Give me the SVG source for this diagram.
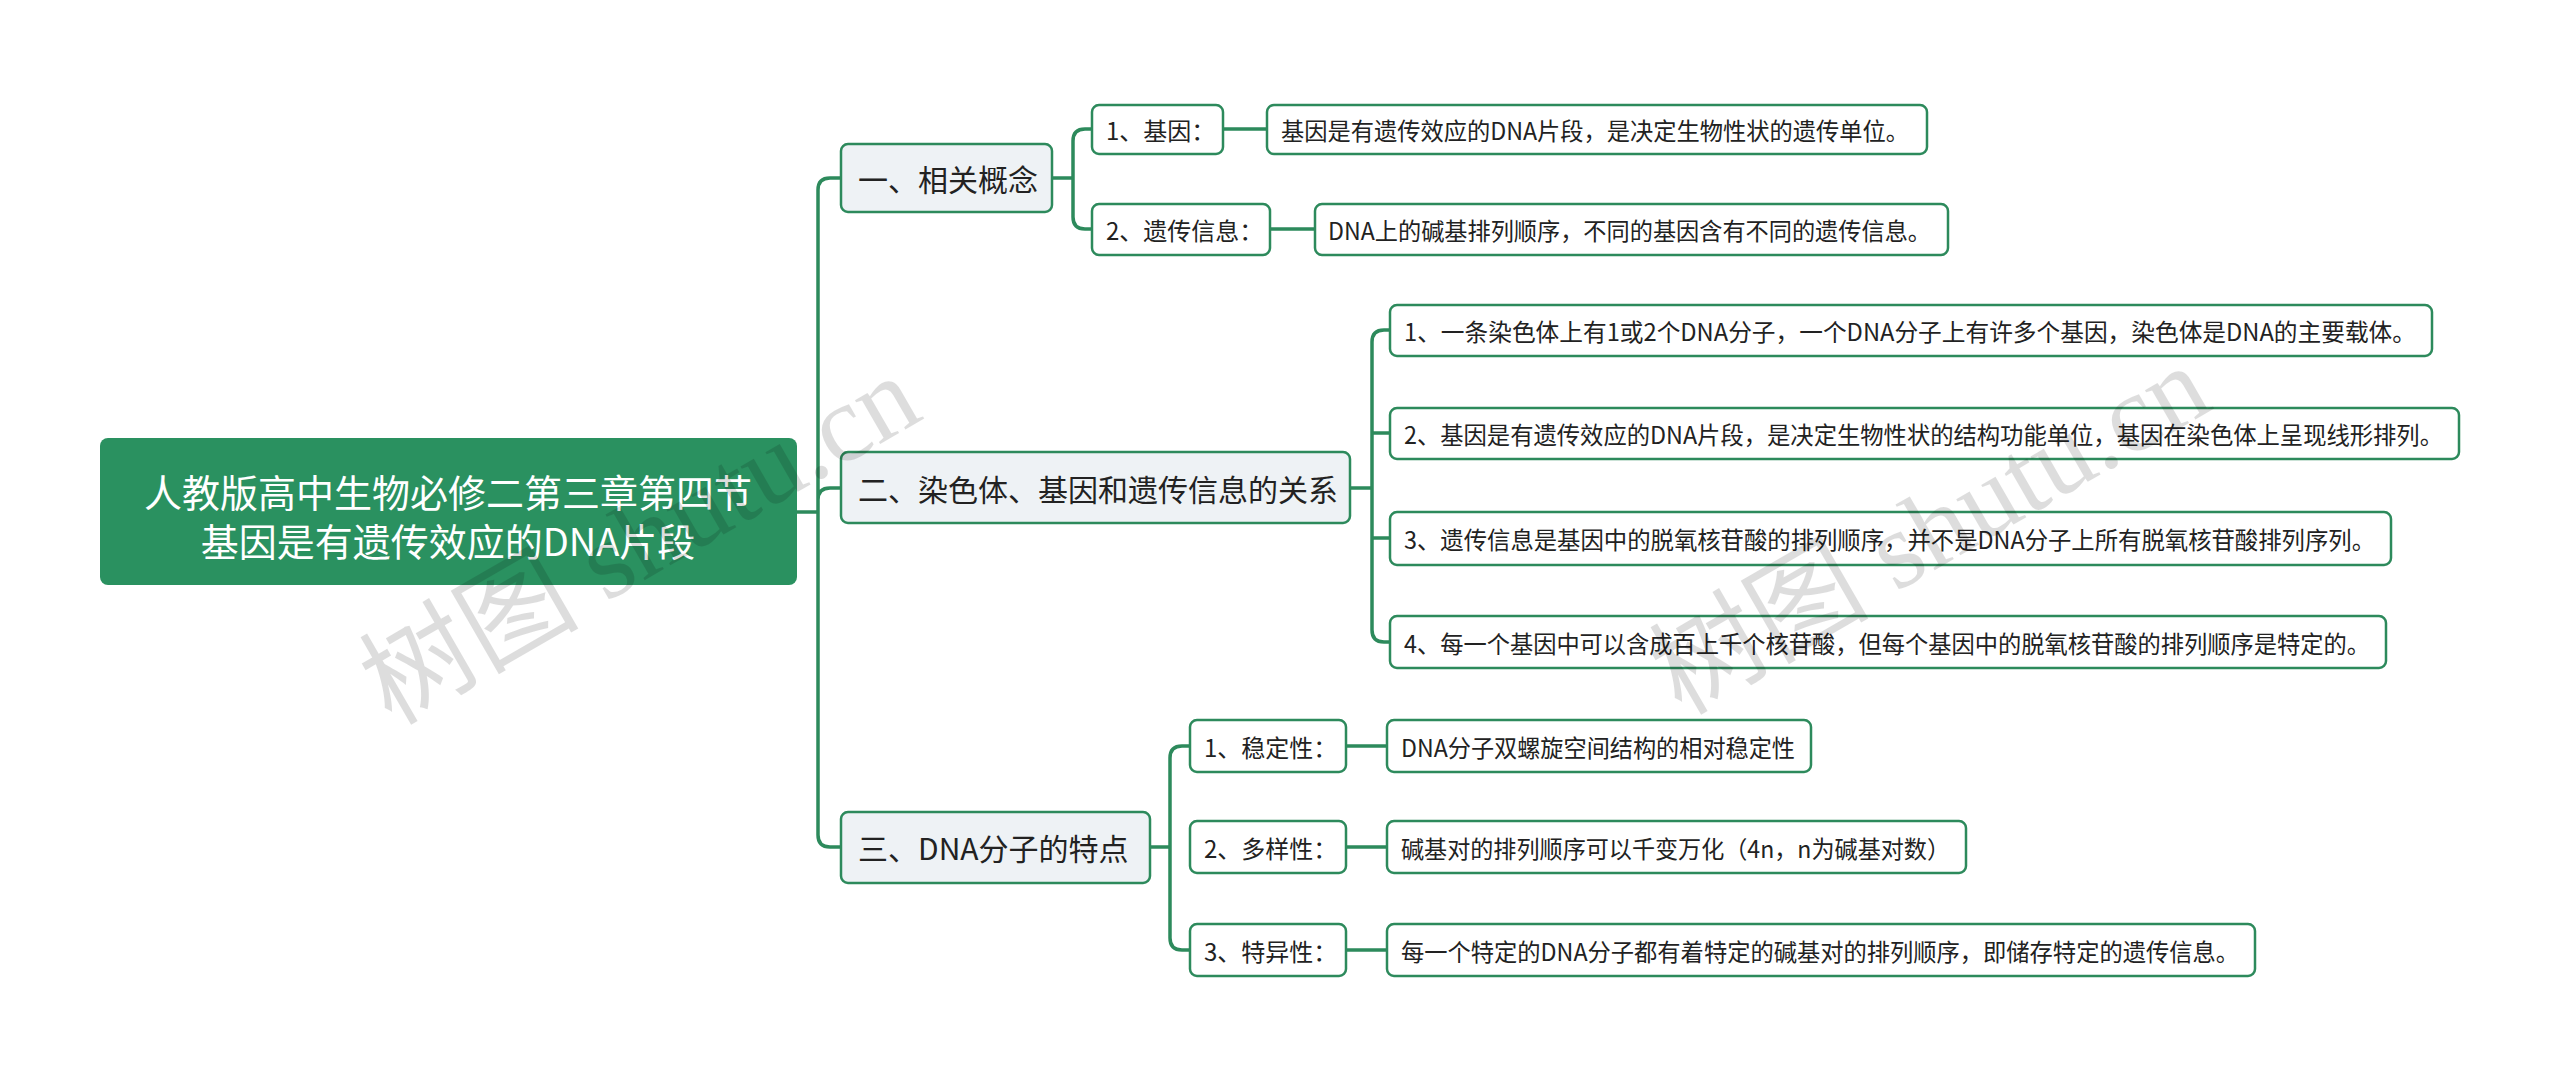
<svg xmlns="http://www.w3.org/2000/svg" width="2560" height="1077" viewBox="0 0 2560 1077">
<style>
.c{fill:none;stroke:#2d8a5c;stroke-width:3.5}
.l1{fill:#eef2f5;stroke:#2d8a5c;stroke-width:2.5}
.lf{fill:#fff;stroke:#2d8a5c;stroke-width:2.5}
text{font-family:"Noto Sans CJK SC","Liberation Sans",sans-serif;fill:#222;dominant-baseline:central}
.t1{font-size:30px}.t2{font-size:24px}
.wm{font-family:"Liberation Serif","Noto Sans CJK SC",serif;font-size:110px;fill:#000;opacity:0.13}
</style>
<rect width="2560" height="1077" fill="#fff"/>
<g id="connectors">
<path class="c" d="M797 512 H818 M818 190 Q818 178 830 178 H841 M818 190 V835 Q818 847 830 847 H841 M818 500 Q818 488 830 488 H841"/>
<path class="c" d="M1052 178 H1073 M1073 141 Q1073 129 1085 129 H1092 M1073 141 V217 Q1073 229 1085 229 H1092 M1223 129 H1267 M1270 229 H1315"/>
<path class="c" d="M1350 488 H1372 M1372 342 Q1372 330 1384 330 H1390 M1372 342 V630 Q1372 642 1384 642 H1390 M1372 433 H1390 M1372 538 H1390"/>
<path class="c" d="M1150 847 H1170 M1170 758 Q1170 746 1182 746 H1190 M1170 758 V938 Q1170 950 1182 950 H1190 M1346 746 H1387 M1346 847 H1387 M1346 950 H1387"/>
</g>
<g id="root"><rect x="100" y="438" width="697" height="147" rx="8" fill="#2a9160"/>
<text x="448" y="490" text-anchor="middle" font-size="38" style="fill:#fff">人教版高中生物必修二第三章第四节</text>
<text x="448" y="539" text-anchor="middle" font-size="38" style="fill:#fff">基因是有遗传效应的DNA片段</text></g>
<g id="n1"><rect class="l1" x="841" y="144" width="211" height="68" rx="7"/><text class="t1" x="858" y="178">一、相关概念</text></g>
<g id="n1a"><rect class="lf" x="1092" y="105" width="131" height="49" rx="7"/><text class="t2" x="1106" y="129">1、基因：</text></g>
<g id="n1a1"><rect class="lf" x="1267" y="105" width="660" height="49" rx="7"/><text class="t2" x="1281" y="129" textLength="628" lengthAdjust="spacingAndGlyphs">基因是有遗传效应的DNA片段，是决定生物性状的遗传单位。</text></g>
<g id="n1b"><rect class="lf" x="1092" y="204" width="178" height="51" rx="7"/><text class="t2" x="1106" y="229">2、遗传信息：</text></g>
<g id="n1b1"><rect class="lf" x="1315" y="204" width="633" height="51" rx="7"/><text class="t2" x="1328" y="229" textLength="603" lengthAdjust="spacingAndGlyphs">DNA上的碱基排列顺序，不同的基因含有不同的遗传信息。</text></g>
<g id="n2"><rect class="l1" x="841" y="452" width="509" height="71" rx="7"/><text class="t1" x="858" y="488">二、染色体、基因和遗传信息的关系</text></g>
<g id="n2a"><rect class="lf" x="1390" y="305" width="1042" height="51" rx="7"/><text class="t2" x="1404" y="330" textLength="1012" lengthAdjust="spacingAndGlyphs">1、一条染色体上有1或2个DNA分子，一个DNA分子上有许多个基因，染色体是DNA的主要载体。</text></g>
<g id="n2b"><rect class="lf" x="1390" y="408" width="1069" height="51" rx="7"/><text class="t2" x="1404" y="433" textLength="1039" lengthAdjust="spacingAndGlyphs">2、基因是有遗传效应的DNA片段，是决定生物性状的结构功能单位，基因在染色体上呈现线形排列。</text></g>
<g id="n2c"><rect class="lf" x="1390" y="512" width="1001" height="53" rx="7"/><text class="t2" x="1404" y="538" textLength="971" lengthAdjust="spacingAndGlyphs">3、遗传信息是基因中的脱氧核苷酸的排列顺序，并不是DNA分子上所有脱氧核苷酸排列序列。</text></g>
<g id="n2d"><rect class="lf" x="1390" y="616" width="996" height="52" rx="7"/><text class="t2" x="1404" y="642" textLength="966" lengthAdjust="spacingAndGlyphs">4、每一个基因中可以含成百上千个核苷酸，但每个基因中的脱氧核苷酸的排列顺序是特定的。</text></g>
<g id="n3"><rect class="l1" x="841" y="812" width="309" height="71" rx="7"/><text class="t1" x="858" y="847">三、DNA分子的特点</text></g>
<g id="n3a"><rect class="lf" x="1190" y="720" width="156" height="52" rx="7"/><text class="t2" x="1204" y="746">1、稳定性：</text></g>
<g id="n3a1"><rect class="lf" x="1387" y="720" width="424" height="52" rx="7"/><text class="t2" x="1401" y="746" textLength="394" lengthAdjust="spacingAndGlyphs">DNA分子双螺旋空间结构的相对稳定性</text></g>
<g id="n3b"><rect class="lf" x="1190" y="821" width="156" height="52" rx="7"/><text class="t2" x="1204" y="847">2、多样性：</text></g>
<g id="n3b1"><rect class="lf" x="1387" y="821" width="579" height="52" rx="7"/><text class="t2" x="1401" y="847" textLength="549" lengthAdjust="spacingAndGlyphs">碱基对的排列顺序可以千变万化（4n，n为碱基对数）</text></g>
<g id="n3c"><rect class="lf" x="1190" y="924" width="156" height="52" rx="7"/><text class="t2" x="1204" y="950">3、特异性：</text></g>
<g id="n3c1"><rect class="lf" x="1387" y="924" width="868" height="52" rx="7"/><text class="t2" x="1401" y="950" textLength="838" lengthAdjust="spacingAndGlyphs">每一个特定的DNA分子都有着特定的碱基对的排列顺序，即储存特定的遗传信息。</text></g>
<text class="wm" transform="translate(640,540) rotate(-30)" text-anchor="middle">树图 shutu.cn</text>
<text class="wm" transform="translate(1930,530) rotate(-30)" text-anchor="middle">树图 shutu.cn</text>
</svg>
